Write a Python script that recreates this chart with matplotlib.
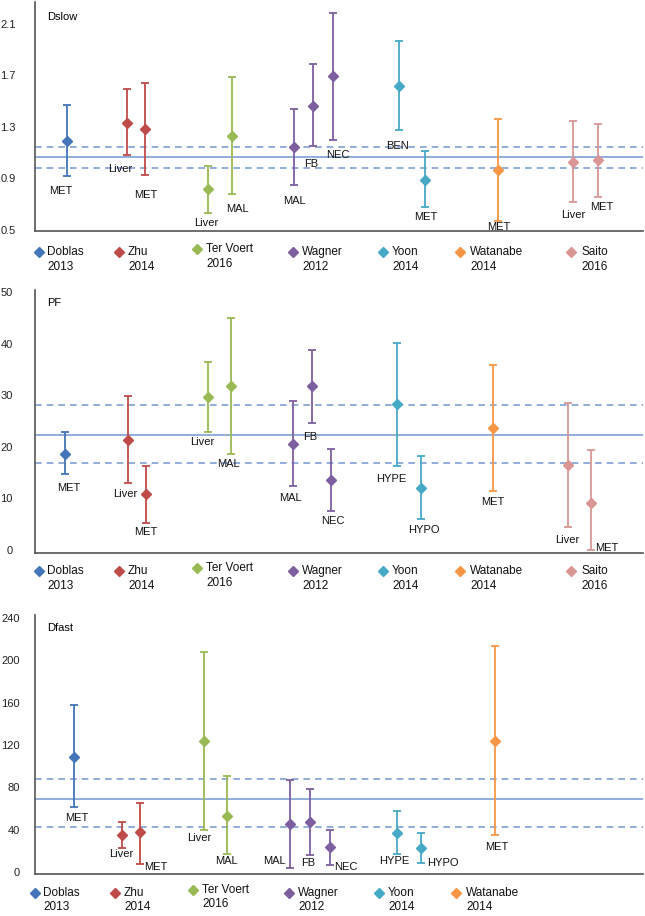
import matplotlib.pyplot as plt

plt.rcParams['font.family'] = ['Liberation Sans', 'DejaVu Sans']

studies = ['Doblas', 'Zhu', 'Ter Voert', 'Wagner', 'Yoon', 'Watanabe', 'Saito']
years = ['2013', '2014', '2016', '2012', '2014', '2014', '2016']
colors = ['#4474b9', '#bf4b48', '#98b954', '#7d5fa0', '#46a9c5', '#f79646', '#d99694']
ref_color = '#7f9fd5'

# Dslow
dslow_study = [0, 1, 1, 2, 2, 3, 3, 3, 4, 4, 5, 6, 6]
dslow_name = ['MET', 'Liver', 'MET', 'Liver', 'MAL', 'MAL', 'FB', 'NEC', 'BEN', 'MET', 'MET', 'Liver', 'MET']
dslow_x = [0.78, 2.26, 2.71, 4.28, 4.85, 6.39, 6.87, 7.35, 8.99, 9.62, 11.42, 13.28, 13.88]
dslow_val = [1.186, 1.328, 1.279, 0.815, 1.230, 1.143, 1.463, 1.692, 1.617, 0.887, 0.962, 1.024, 1.042]
dslow_lo = [0.918, 1.081, 0.926, 0.634, 0.776, 0.849, 1.150, 1.194, 1.274, 0.676, 0.570, 0.719, 0.756]
dslow_hi = [1.468, 1.589, 1.638, 0.998, 1.685, 1.437, 1.785, 2.185, 1.961, 1.112, 1.362, 1.344, 1.318]
dslow_lab_x = [0.64, 2.11, 2.73, 4.22, 4.99, 6.41, 6.81, 7.47, 8.95, 9.63, 11.45, 13.29, 13.98]
dslow_lab_y = [0.805, 0.972, 0.771, 0.557, 0.660, 0.724, 1.008, 1.078, 1.153, 0.598, 0.523, 0.614, 0.681]
dslow_ref = [1.068, 0.977, 1.145]
dslow_ticks = [0.5, 0.9, 1.3, 1.7, 2.1]

# PF
pf_study = [0, 1, 1, 2, 2, 3, 3, 3, 4, 4, 5, 6, 6]
pf_name = ['MET', 'Liver', 'MET', 'Liver', 'MAL', 'MAL', 'FB', 'NEC', 'HYPE', 'HYPO', 'MET', 'Liver', 'MET']
pf_x = [0.74, 2.29, 2.75, 4.28, 4.84, 6.36, 6.83, 7.31, 8.93, 9.53, 11.31, 13.14, 13.72]
pf_val = [18.7, 21.4, 10.8, 29.6, 31.7, 20.6, 31.7, 13.5, 28.3, 12.1, 23.7, 16.4, 9.2]
pf_lo = [14.8, 12.9, 5.3, 22.8, 18.6, 12.5, 24.6, 7.5, 16.3, 6.1, 11.5, 4.4, 0.0]
pf_hi = [22.8, 29.9, 16.3, 36.5, 44.9, 28.8, 38.8, 19.5, 40.1, 18.3, 35.9, 28.4, 19.4]
pf_lab_x = [0.84, 2.23, 2.73, 4.13, 4.77, 6.31, 6.80, 7.35, 8.78, 9.60, 11.29, 13.14, 14.11]
pf_lab_y = [12.1, 10.9, 3.4, 20.9, 16.7, 10.1, 21.9, 5.7, 13.8, 3.8, 9.3, 1.9, 0.4]
pf_ref = [22.3, 16.8, 28.1]
pf_ticks = [0, 10, 20, 30, 40, 50]

# Dfast
dfast_study = [0, 1, 1, 2, 2, 3, 3, 3, 4, 4, 5]
dfast_name = ['MET', 'Liver', 'MET', 'Liver', 'MAL', 'MAL', 'FB', 'NEC', 'HYPE', 'HYPO', 'MET']
dfast_x = [0.97, 2.15, 2.60, 4.17, 4.74, 6.30, 6.79, 7.27, 8.92, 9.52, 11.35]
dfast_val = [108.4, 35.1, 37.9, 124.1, 53.3, 45.4, 47.3, 23.5, 37.0, 22.6, 124.1]
dfast_lo = [61.1, 22.3, 7.5, 39.5, 17.2, 3.8, 16.3, 6.9, 17.0, 8.8, 34.5]
dfast_hi = [157.3, 47.0, 65.5, 207.7, 90.6, 86.8, 78.6, 40.1, 57.7, 37.3, 213.7]
dfast_lab_x = [1.02, 2.13, 2.98, 4.05, 4.73, 5.91, 6.75, 7.68, 8.86, 10.06, 11.38]
dfast_lab_y = [51.4, 16.6, 4.7, 32.3, 10.4, 10.4, 8.2, 5.0, 10.4, 8.2, 23.5]
dfast_ref = [69.3, 42.9, 87.7]
dfast_ticks = [0, 40, 80, 120, 160, 200, 240]

W, H = 645, 916
fig = plt.figure(figsize=(W / 100, H / 100), dpi=100)


def panel(top, bottom, ylim, ticks, pad, title, study, name, x, val, lo, hi,
          lab_x, lab_y, ref, n_leg, leg_y, leg_shift):
    ax = fig.add_axes([35 / W, 1 - bottom / H, 608 / W, (bottom - top) / H])
    ax.set_xlim(0, 15)
    ax.set_ylim(*ylim)
    for s in ['top', 'right']:
        ax.spines[s].set_visible(False)
    for s in ['left', 'bottom']:
        ax.spines[s].set_color('#555555')
        ax.spines[s].set_linewidth(1.2)
    ax.set_xticks([])
    ax.set_yticks(ticks)
    ax.set_yticklabels([str(t) for t in ticks])
    ax.tick_params(axis='y', length=0, pad=pad, labelsize=8, labelcolor='#222222')

    ax.axhline(ref[0], color=ref_color, lw=1.2, zorder=1)
    ax.axhline(ref[1], color=ref_color, lw=1.2, ls=(0, (4, 3)), zorder=1)
    ax.axhline(ref[2], color=ref_color, lw=1.2, ls=(0, (4, 3)), zorder=1)

    for i in range(len(val)):
        c = colors[study[i]]
        ax.errorbar([x[i]], [val[i]], yerr=[[val[i] - lo[i]], [hi[i] - val[i]]],
                    fmt='D', color=c, ms=5, elinewidth=1.3, capsize=3,
                    capthick=1.3, zorder=3)
        ax.text(lab_x[i], lab_y[i], name[i], ha='center', va='center',
                fontsize=8, color='#111111', zorder=4)

    ax.text(0.02, 1 - 15 / (bottom - top) if title == 'Dslow' else 0.95, title,
            transform=ax.transAxes, ha='left', va='center', fontsize=8)

    # hand-made legend under the panel
    mx = [39, 119, 197, 293, 383, 460, 571]
    tx = [47, 128, 206, 302, 392, 470, 581]
    for i in range(n_leg):
        up = 3 if i == 2 else 0
        y1 = 1 - (leg_y[0] - up) / H
        y2 = 1 - (leg_y[1] - up) / H
        fig.lines.append(plt.Line2D([(mx[i] + leg_shift) / W], [y1],
                                    marker='D', ms=5, color=colors[i], ls='none',
                                    transform=fig.transFigure))
        fig.text((tx[i] + leg_shift) / W, y1, studies[i],
                 ha='left', va='center', fontsize=8.5, color='#111111')
        fig.text((tx[i] + leg_shift) / W, y2, years[i],
                 ha='left', va='center', fontsize=8.5, color='#111111')
    return ax


panel(2, 231, (0.492, 2.267), dslow_ticks, 14, 'Dslow', dslow_study, dslow_name,
      dslow_x, dslow_val, dslow_lo, dslow_hi, dslow_lab_x, dslow_lab_y, dslow_ref,
      7, (252, 267), 0)
panel(290, 553, (-0.58, 50.4), pf_ticks, 16, 'PF', pf_study, pf_name,
      pf_x, pf_val, pf_lo, pf_hi, pf_lab_x, pf_lab_y, pf_ref,
      7, (571, 586), 0)
panel(615, 874, (-1.9, 242.8), dfast_ticks, 11, 'Dfast', dfast_study, dfast_name,
      dfast_x, dfast_val, dfast_lo, dfast_hi, dfast_lab_x, dfast_lab_y, dfast_ref,
      6, (893, 907), -4)

fig.savefig('out.png', dpi=100)
